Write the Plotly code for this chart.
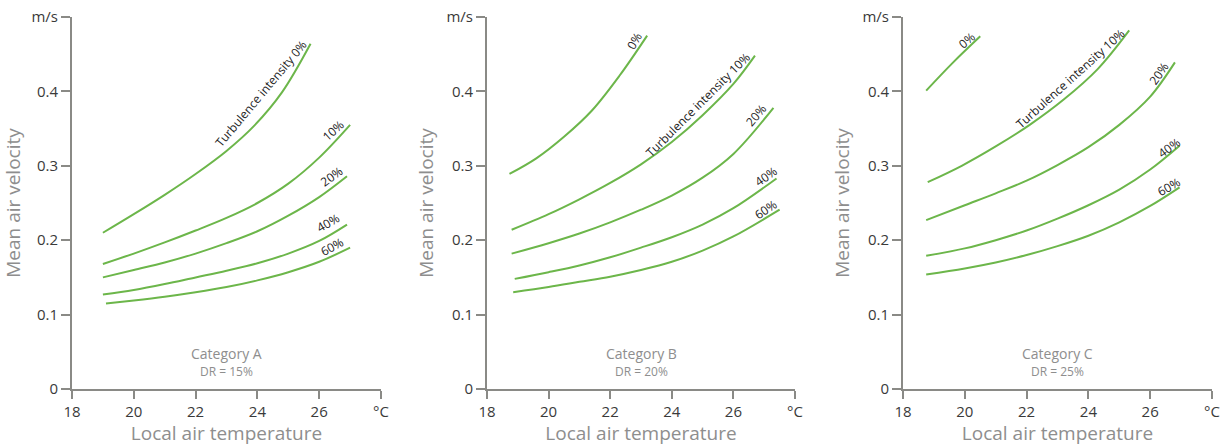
import plotly.graph_objects as go

# ---------------- data ----------------
panels = ["Category A", "Category B", "Category C"]
dr_labels = ["DR = 15%", "DR = 20%", "DR = 25%"]
series_names = ["0%", "10%", "20%", "40%", "60%"]

# Category A
a_t0 = [19.0, 20, 21, 22, 23, 23.9, 24.8, 25.72]
a_v0 = [0.21, 0.235, 0.261, 0.289, 0.32, 0.354, 0.399, 0.464]
a_t10 = [19.0, 20, 21, 22, 23, 24, 25, 26, 27.0]
a_v10 = [0.168, 0.182, 0.197, 0.213, 0.23, 0.25, 0.276, 0.311, 0.355]
a_t20 = [19.0, 20, 21, 22, 23, 24, 25, 26, 26.9]
a_v20 = [0.15, 0.16, 0.17, 0.182, 0.196, 0.212, 0.233, 0.258, 0.286]
a_t40 = [19.0, 20, 21, 22, 23, 24, 25, 26, 26.9]
a_v40 = [0.127, 0.133, 0.141, 0.15, 0.159, 0.169, 0.182, 0.199, 0.221]
a_t60 = [19.1, 20, 21, 22, 23, 24, 25, 26, 27.0]
a_v60 = [0.115, 0.119, 0.124, 0.13, 0.137, 0.146, 0.157, 0.171, 0.19]

# Category B
b_t0 = [18.73, 19.6, 20.5, 21.4, 22.3, 23.2]
b_v0 = [0.289, 0.31, 0.339, 0.374, 0.421, 0.475]
b_t10 = [18.8, 20, 21, 22, 23, 24, 25, 26, 26.7]
b_v10 = [0.214, 0.235, 0.255, 0.277, 0.302, 0.332, 0.368, 0.41, 0.448]
b_t20 = [18.8, 20, 21, 22, 23, 24, 25, 26, 27.3]
b_v20 = [0.182, 0.196, 0.209, 0.224, 0.241, 0.26, 0.284, 0.316, 0.378]
b_t40 = [18.9, 20, 21, 22, 23, 24, 25, 26, 27.4]
b_v40 = [0.148, 0.157, 0.166, 0.177, 0.19, 0.204, 0.221, 0.243, 0.283]
b_t60 = [18.85, 20, 21, 22, 23, 24, 25, 26, 27.5]
b_v60 = [0.13, 0.137, 0.144, 0.151, 0.16, 0.171, 0.186, 0.205, 0.241]

# Category C
c_t0 = [18.75, 19.6, 20.5]
c_v0 = [0.401, 0.438, 0.474]
c_t10 = [18.8, 19.9, 21.0, 22.1, 23.2, 24.3, 25.32]
c_v10 = [0.278, 0.3, 0.326, 0.355, 0.389, 0.43, 0.482]
c_t20 = [18.75, 20, 21, 22, 23, 24, 25, 26, 26.8]
c_v20 = [0.227, 0.247, 0.263, 0.28, 0.301, 0.325, 0.355, 0.393, 0.439]
c_t40 = [18.75, 20, 21, 22, 23, 24, 25, 26, 26.95]
c_v40 = [0.179, 0.189, 0.2, 0.213, 0.229, 0.247, 0.268, 0.295, 0.327]
c_t60 = [18.75, 20, 21, 22, 23, 24, 25, 26, 26.95]
c_v60 = [0.154, 0.162, 0.17, 0.18, 0.192, 0.206, 0.224, 0.246, 0.271]

x_tickvals = [18, 20, 22, 24, 26, 28]
x_ticktext = ["18", "20", "22", "24", "26", "°C"]
y_tickvals = [0, 0.1, 0.2, 0.3, 0.4, 0.5]
y_ticktext = ["0", "0.1", "0.2", "0.3", "0.4", "m/s"]

panel_data = [
    [(a_t0, a_v0), (a_t10, a_v10), (a_t20, a_v20), (a_t40, a_v40), (a_t60, a_v60)],
    [(b_t0, b_v0), (b_t10, b_v10), (b_t20, b_v20), (b_t40, b_v40), (b_t60, b_v60)],
    [(c_t0, c_v0), (c_t10, c_v10), (c_t20, c_v20), (c_t40, c_v40), (c_t60, c_v60)],
]

# curve label texts, anchor (T, v) and angle per panel
label_texts = [
    ["Turbulence intensity 0%", "10%", "20%", "40%", "60%"],
    ["0%", "Turbulence intensity 10%", "20%", "40%", "60%"],
    ["0%", "Turbulence intensity 10%", "20%", "40%", "60%"],
]
label_t = [
    [24.12, 26.45, 26.4, 26.3, 26.42],
    [22.8, 24.85, 26.72, 27.05, 27.05],
    [20.05, 23.42, 26.28, 26.62, 26.62],
]
label_v = [
    [0.397, 0.348, 0.285, 0.224, 0.192],
    [0.468, 0.383, 0.368, 0.286, 0.241],
    [0.469, 0.417, 0.424, 0.325, 0.272],
]
label_angle = [
    [-50, -42, -36, -30, -28],
    [-60, -45, -50, -35, -34],
    [-40, -42, -55, -35, -30],
]

# ---------------- figure ----------------
GREEN = "#6cb64a"
AXIS = "#8a8a86"
TITLE = "#8e8e8e"
TICK = "#3a3a3a"
FONT = "Open Sans"

x_domains = [[72 / 1227, 381 / 1227], [487 / 1227, 795 / 1227], [903 / 1227, 1212 / 1227]]
y_domain = [(446 - 389) / 446, (446 - 17) / 446]

fig = go.Figure()
annotations = []
for p in range(3):
    xa = "x" if p == 0 else f"x{p + 1}"
    ya = "y" if p == 0 else f"y{p + 1}"
    for s, (t, v) in enumerate(panel_data[p]):
        fig.add_trace(go.Scatter(
            x=t, y=v, mode="lines", name=series_names[s],
            line=dict(color=GREEN, width=2, shape="spline", smoothing=1.0),
            xaxis=xa, yaxis=ya, showlegend=False, hoverinfo="skip"))
        annotations.append(dict(
            x=label_t[p][s], y=label_v[p][s], xref=xa, yref=ya,
            text=label_texts[p][s], textangle=label_angle[p][s], showarrow=False,
            font=dict(family=FONT, size=12, color="#222222")))
    annotations.append(dict(x=23, y=0.048, xref=xa, yref=ya, text=panels[p], showarrow=False,
                            font=dict(family=FONT, size=14, color=TITLE)))
    annotations.append(dict(x=23, y=0.023, xref=xa, yref=ya, text=dr_labels[p], showarrow=False,
                            font=dict(family=FONT, size=12, color=TITLE)))

    axkey = "xaxis" if p == 0 else f"xaxis{p + 1}"
    aykey = "yaxis" if p == 0 else f"yaxis{p + 1}"
    fig.update_layout(**{
        axkey: dict(
            domain=x_domains[p], range=[18, 28], anchor=ya, automargin=False,
            tickvals=x_tickvals, ticktext=x_ticktext,
            showgrid=False, zeroline=False, showline=True, linecolor=AXIS, linewidth=2,
            ticks="outside", ticklen=8, tickwidth=2, tickcolor=AXIS,
            tickfont=dict(family=FONT, size=15, color=TICK),
            title=dict(text="Local air temperature", standoff=4,
                       font=dict(family=FONT, size=19, color=TITLE)),
            fixedrange=True),
        aykey: dict(
            domain=y_domain, range=[0, 0.5], anchor=xa, automargin=False,
            tickvals=y_tickvals, ticktext=y_ticktext,
            showgrid=False, zeroline=False, showline=True, linecolor=AXIS, linewidth=2,
            ticks="outside", ticklen=9, tickwidth=2, tickcolor=AXIS,
            tickfont=dict(family=FONT, size=15, color=TICK),
            title=dict(text="Mean air velocity", standoff=8,
                       font=dict(family=FONT, size=19, color=TITLE)),
            fixedrange=True),
    })

fig.update_layout(
    width=1227, height=446,
    margin=dict(l=0, r=0, t=0, b=0),
    paper_bgcolor="white", plot_bgcolor="white",
    annotations=annotations,
    showlegend=False,
)

fig.write_html("out.html", config={"displayModeBar": False},
               post_script="document.body.style.margin='0';document.body.style.overflow='hidden';")
